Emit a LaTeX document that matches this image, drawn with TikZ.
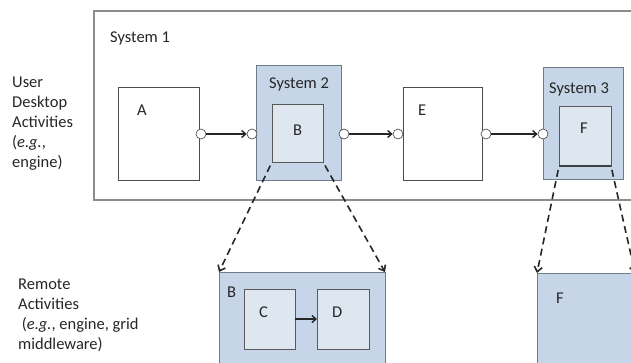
\documentclass[tikz,border=0pt]{standalone}
\usepackage{fontspec}
\setmainfont{Carlito}
\usetikzlibrary{arrows.meta}
\definecolor{sysblue}{HTML}{C6D6E8}
\definecolor{innerblue}{HTML}{DEE6F0}
\definecolor{edgegray}{HTML}{6F7B88}
\definecolor{framegray}{HTML}{8C8C8C}
\definecolor{inkgray}{HTML}{262626}
\begin{document}
\begin{tikzpicture}[x=1pt,y=-1pt,
  txt/.style={font=\fontsize{16.5}{20}\selectfont, inner sep=0pt, anchor=base west, text=inkgray},
  sidetxt/.style={font=\fontsize{16.5}{20}\selectfont, inner sep=0pt, anchor=north west, align=left, text=inkgray},
  anybox/.style={anchor=north west, inner sep=0pt, outer sep=0pt, line width=0.8pt},
  framebox/.style={anybox, draw=framegray, fill=white, line width=1.2pt},
  plainbox/.style={anybox, draw=black!70, fill=white},
  sysbox/.style={anybox, draw=edgegray, fill=sysblue},
  subbox/.style={anybox, draw=black!65, fill=innerblue},
  port/.style={circle, draw=black!75, fill=white, line width=0.6pt, minimum size=10pt, inner sep=0pt},
  flow/.style={line width=1.4pt, draw=inkgray, -{Straight Barb[length=4pt,width=7pt]}},
  remote/.style={line width=1.6pt, draw=inkgray, dash pattern=on 7pt off 4.5pt, shorten <=4pt,
    -{Straight Barb[length=5pt,width=8pt]}}
]
\useasboundingbox (0,0) rectangle (631,362);
\clip (0,0) rectangle (631,362);

% user desktop layer
\node[framebox, minimum width=566pt, minimum height=189pt] (S1) at (94,11) {};
\node[txt] (S1t) at (110,42) {System 1};

\node[plainbox, minimum width=81pt, minimum height=93pt] (A) at (118,87) {};
\node[txt] (At) at (137,115) {A};

\node[sysbox, minimum width=85pt, minimum height=115pt] (S2) at (256,65) {};
\node[txt] (S2t) at (269,88) {System 2};
\node[subbox, minimum width=51pt, minimum height=58pt] (B) at (272,104) {};
\node[txt] (Bt) at (293,135) {B};

\node[plainbox, minimum width=79pt, minimum height=93pt] (E) at (403,87) {};
\node[txt] (Et) at (418,115) {E};

\node[sysbox, minimum width=80pt, minimum height=112pt] (S3) at (543,67) {};
\node[txt] (S3t) at (549,93) {System 3};
\node[subbox, minimum width=52pt, minimum height=60pt] (F) at (559,106) {};
\draw[line width=1.3pt, draw=black!75] (F.south west) -- (F.south east);
\node[txt] (Ft) at (580,133) {F};

% ports and flows
\node[port] (p1) at (201,134) {};
\node[port] (p2) at (252,134) {};
\node[port] (p3) at (344,134) {};
\node[port] (p4) at (398,134) {};
\node[port] (p5) at (486,134) {};
\node[port] (p6) at (543,134) {};
\draw[flow] (p1) -- (p2);
\draw[flow] (p3) -- (p4);
\draw[flow] (p5) -- (p6);

% remote layer
\node[sysbox, minimum width=166pt, minimum height=120pt] (RB) at (219,272) {};
\node[txt] (RBt) at (227,297) {B};
\node[subbox, minimum width=51pt, minimum height=60pt] (C) at (244,289) {};
\node[txt] (Ct) at (259,317) {C};
\node[subbox, minimum width=52pt, minimum height=60pt] (D) at (317,289) {};
\node[txt] (Dt) at (332,317) {D};
\draw[flow] (C) -- (D);

\node[sysbox, minimum width=130pt, minimum height=120pt] (RF) at (537,273) {};
\node[txt] (RFt) at (556,303) {F};

% expansion links
\coordinate (FEnd) at (635,273);
\draw[remote] (B.south west) -- (RB.north west);
\draw[remote] (B.south east) -- (RB.north east);
\draw[remote] (F.south west) -- (RF.north west);
\draw[remote] (F.south east) -- (FEnd);

% side captions
\node[sidetxt] (userlbl) at (12,77) {User\\Desktop\\Activities\\(\textit{e.g.},\\engine)};
\node[sidetxt] (remotelbl) at (18,279) {Remote\\Activities\\\ (\textit{e.g.}, engine, grid\\middleware)};
\end{tikzpicture}
\end{document}
